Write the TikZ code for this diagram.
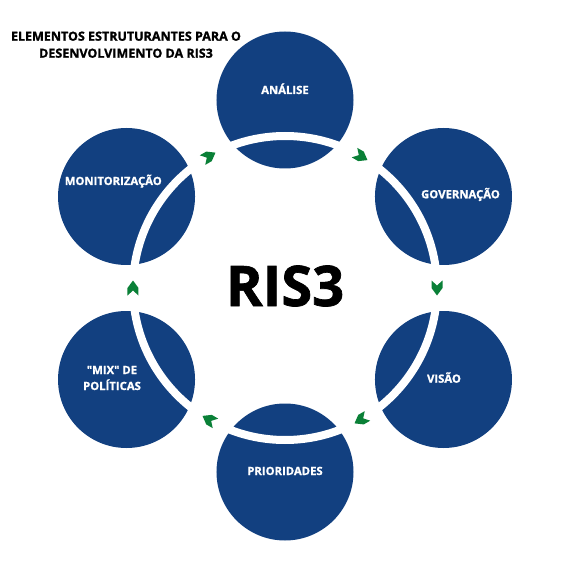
\documentclass[tikz,border=0pt]{standalone}
\usepackage{fontspec}
\setmainfont{Open Sans}[Ligatures=TeXOff, BoldFeatures={FakeBold=1.2}]
\definecolor{risblue}{RGB}{18,64,128}
\definecolor{risgreen}{RGB}{10,128,55}
\begin{document}
\begin{tikzpicture}[x=1pt,y=1pt,
  bubble/.style={circle, fill=risblue, minimum size=137pt, inner sep=0pt},
  lbl/.style={text=white, font=\bfseries\fontsize{11.3}{14}\selectfont, anchor=base, inner sep=0pt},
  ttl/.style={text=black, font=\bfseries\fontsize{12.5}{17}\selectfont, anchor=base, inner sep=0pt},
  ring/.style={draw=white, line width=8pt},
  chev/.style={fill=risgreen}]
\useasboundingbox (-285,-282) rectangle (285,288);
\fill[white] (-285,-282) rectangle (285,288);
\coordinate (c) at (0,0);
% title
\node[ttl] (t1) at (-159,247.3) {ELEMENTOS ESTRUTURANTES PARA O};
\node[ttl] (t2) at (-159,230.3) {DESENVOLVIMENTO DA RIS3};
% bubbles
\node[bubble] (ana) at (90:188) {};
\node[bubble] (gov) at (30:183) {};
\node[bubble] (vis) at (-30:183) {};
\node[bubble] (pri) at (-90:184) {};
\node[bubble] (mix) at (-150:183) {};
\node[bubble] (mon) at (150:183) {};
% ring
\draw[ring] (c) circle[radius=152];
% chevrons
\foreach \a in {0,60,...,300}
  \fill[chev, shift={(\a:152)}, rotate=\a-90] (-7.5,5.5) -- (0,5.5) -- (7.5,0) -- (0,-5.5) -- (-7.5,-5.5) -- (-2.5,0) -- cycle;
% labels
\node[lbl] (lana) at (0,194) {ANÁLISE};
\node[lbl] (lgov) at (175.5,89.7) {GOVERNAÇÃO};
\node[lbl] (lvis) at (159,-94.7) {VISÃO};
\node[lbl] (lpri) at (0,-187) {PRIORIDADES};
\node[lbl] (lmix1) at (-173,-86) {"MIX" DE};
\node[lbl] (lmix2) at (-173,-102) {POLÍTICAS};
\node[lbl] (lmon) at (-171.7,103) {MONITORIZAÇÃO};
% centre
\node[text=black, font=\bfseries\fontsize{56}{60}\selectfont, anchor=base, inner sep=0pt] (ris) at (0,-18) {RIS3};
\end{tikzpicture}
\end{document}
